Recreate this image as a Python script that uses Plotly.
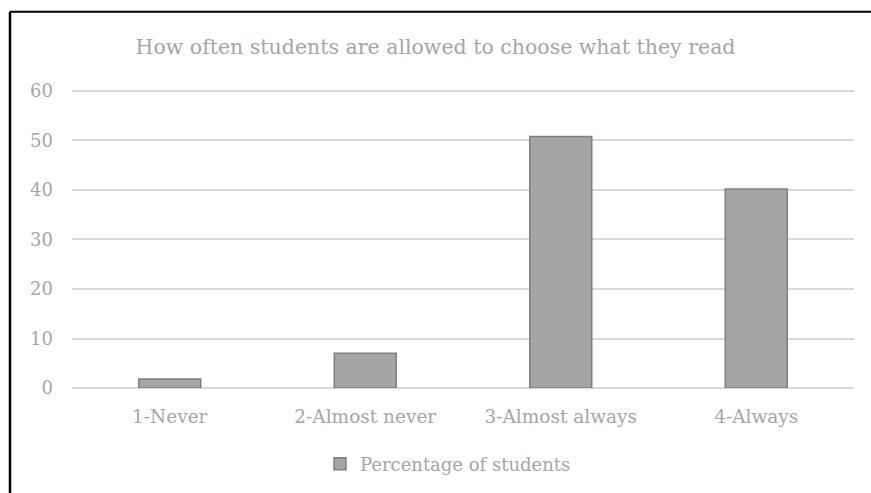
import plotly.graph_objects as go

# Survey responses: how often students choose their own reading
categories = ["1-Never", "2-Almost never", "3-Almost always", "4-Always"]
percentages = [1.8, 7.0, 50.8, 40.2]
y_ticks = [0, 10, 20, 30, 40, 50, 60]
series_name = "Percentage of students"
title_text = "How often students are allowed to choose what they read"

FONT = "DejaVu Serif"
TEXT_GREY = "#a6a6a6"

W, H = 871, 493
L, R, T, B = 72, 17, 88, 104
plot_w = W - L - R
plot_h = H - T - B
Y_MAX = 60.6  # a little headroom so the top gridline is drawn


def px_x(px):
    return (px - L) / plot_w


def px_y(py):
    return (H - B - py) / plot_h


fig = go.Figure(
    go.Bar(
        x=categories,
        y=percentages,
        name=series_name,
        marker=dict(color="#a5a5a5", line=dict(color="#7f7f7f", width=1.5)),
        showlegend=True,
    )
)

fig.update_layout(
    width=W,
    height=H,
    margin=dict(l=L, r=R, t=T, b=B),
    paper_bgcolor="white",
    plot_bgcolor="white",
    bargap=0.683,
    font=dict(family=FONT, color=TEXT_GREY, size=18),
    title=dict(
        text=title_text,
        x=0.5,
        xanchor="center",
        y=1 - 47 / H,
        yanchor="middle",
        font=dict(family=FONT, size=20.5, color=TEXT_GREY),
    ),
    xaxis=dict(
        showgrid=False,
        showline=False,
        zeroline=False,
        ticks="",
        tickfont=dict(size=18.5, color=TEXT_GREY),
        ticklabelstandoff=15,
    ),
    yaxis=dict(
        range=[0, Y_MAX],
        tickvals=y_ticks,
        showgrid=True,
        gridcolor="#d9d9d9",
        gridwidth=1.5,
        zeroline=True,
        zerolinecolor="#d9d9d9",
        zerolinewidth=1.5,
        showline=False,
        ticks="",
        tickfont=dict(size=18, color=TEXT_GREY),
        ticklabelstandoff=18,
    ),
    legend=dict(
        orientation="h",
        x=px_x(320),
        xanchor="left",
        y=px_y(464),
        yanchor="middle",
        font=dict(size=18, color=TEXT_GREY),
        itemwidth=30,
    ),
    shapes=[
        # frame edges along the top and left of the chart area
        dict(type="line", xref="paper", yref="paper",
             x0=px_x(10), x1=px_x(W + 5), y0=px_y(11.5), y1=px_y(11.5),
             line=dict(color="black", width=2)),
        dict(type="line", xref="paper", yref="paper",
             x0=px_x(10), x1=px_x(10), y0=px_y(11.5), y1=px_y(H + 5),
             line=dict(color="black", width=2.5)),
    ],
)

fig.write_html("out.html")
